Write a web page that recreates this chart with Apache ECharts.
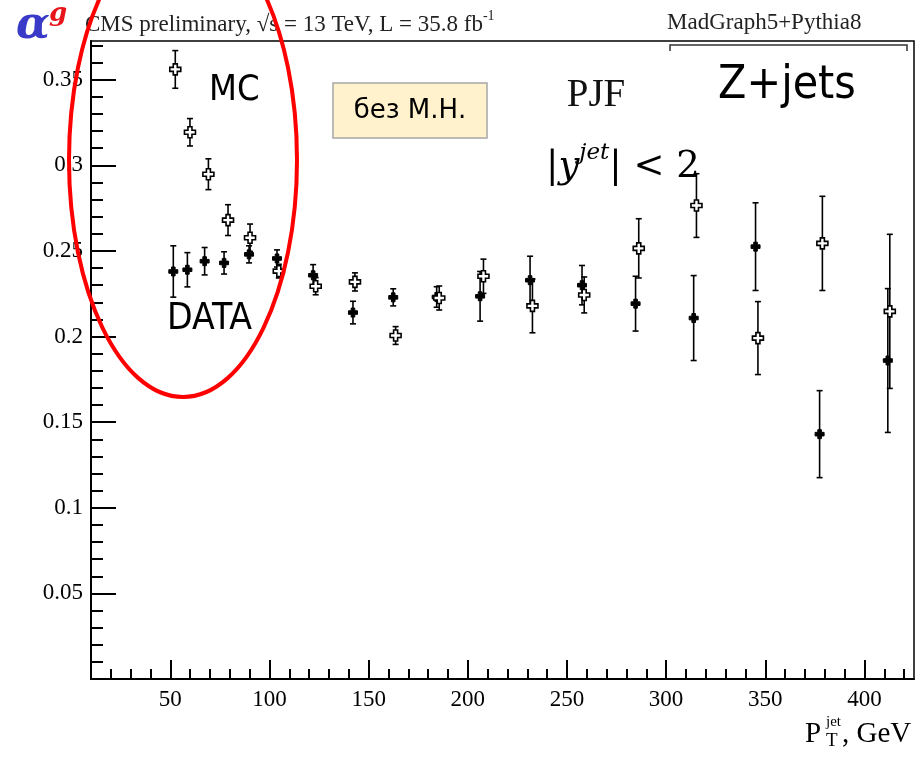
<!DOCTYPE html>
<html>
<head>
<meta charset="utf-8">
<script src="https://cdn.jsdelivr.net/npm/echarts@6/dist/echarts.min.js"></script>
<style>
  html, body { margin: 0; padding: 0; background: #fff; }
  #chart { width: 923px; height: 758px; }
</style>
</head>
<body>
<div id="chart"></div>
<script>
// DATA points: jet pT (GeV), alpha^g, stat. error
const dataPt    = [51.5, 58.6, 67.3, 77.1, 89.7, 103.8, 122.0, 142.1, 162.4, 184.3, 206.2, 231.4, 257.6, 284.6, 313.9, 345.1, 377.4, 411.8];
const dataAlpha = [0.238, 0.239, 0.244, 0.243, 0.248, 0.2456, 0.2358, 0.214, 0.2229, 0.2231, 0.2235, 0.2329, 0.230, 0.2192, 0.2108, 0.2525, 0.143, 0.186];
const dataErr   = [0.015, 0.010, 0.008, 0.0065, 0.005, 0.005, 0.0062, 0.0066, 0.005, 0.006, 0.0145, 0.014, 0.0115, 0.016, 0.0248, 0.0256, 0.0254, 0.042];

// MC (MadGraph5+Pythia8) points
const mcPt    = [52.5, 59.9, 69.2, 79.1, 90.2, 104.7, 123.3, 143.1, 163.6, 185.6, 207.9, 232.6, 258.7, 286.2, 315.3, 346.3, 378.8, 412.8];
const mcAlpha = [0.356, 0.3193, 0.2948, 0.268, 0.2577, 0.2382, 0.2294, 0.2319, 0.2006, 0.2225, 0.2352, 0.2179, 0.2243, 0.2515, 0.2765, 0.1991, 0.2544, 0.2147];
const mcErr   = [0.011, 0.008, 0.009, 0.009, 0.008, 0.004, 0.005, 0.0053, 0.0052, 0.007, 0.010, 0.0157, 0.0105, 0.0173, 0.0186, 0.0213, 0.0275, 0.045];

// axis ticks
const xMajorTicks = [50, 100, 150, 200, 250, 300, 350, 400];
const xMinorTicks = [20, 30, 40, 60, 70, 80, 90, 110, 120, 130, 140, 160, 170, 180, 190, 210, 220, 230, 240,
                     260, 270, 280, 290, 310, 320, 330, 340, 360, 370, 380, 390, 410, 420];
const yMajorTicks = [0.05, 0.1, 0.15, 0.2, 0.25, 0.3, 0.35];
const yTickLabels = ['0.05', '0.1', '0.15', '0.2', '0.25', '0.3', '0.35'];
const yMinorTicks = [0.01, 0.02, 0.03, 0.04, 0.06, 0.07, 0.08, 0.09, 0.11, 0.12, 0.13, 0.14, 0.16, 0.17, 0.18, 0.19,
                     0.21, 0.22, 0.23, 0.24, 0.26, 0.27, 0.28, 0.29, 0.31, 0.32, 0.33, 0.34, 0.36, 0.37];

const SERIF = 'Liberation Serif';
const SANS = 'DejaVu Sans Condensed, DejaVu Sans';

let chart = echarts.init(document.getElementById('chart'));

// point with vertical error bar and a "+" marker
function crossItem(filled, arm, half) {
  return function (params, api) {
    const x = api.value(0), y = api.value(1), e = api.value(2);
    const c = api.coord([x, y]);
    const hi = api.coord([x, y + e]);
    const lo = api.coord([x, y - e]);
    const px = c[0], py = c[1];
    const a = arm, w = half, cap = 3;
    const plus = [
      [px - w, py - a], [px + w, py - a], [px + w, py - w], [px + a, py - w],
      [px + a, py + w], [px + w, py + w], [px + w, py + a], [px - w, py + a],
      [px - w, py + w], [px - a, py + w], [px - a, py - w], [px - w, py - w]
    ];
    const ls = { stroke: '#000', lineWidth: 1.6 };
    return {
      type: 'group',
      children: [
        { type: 'line', shape: { x1: px, y1: hi[1], x2: px, y2: lo[1] }, style: ls },
        { type: 'line', shape: { x1: px - cap, y1: hi[1], x2: px + cap, y2: hi[1] }, style: ls },
        { type: 'line', shape: { x1: px - cap, y1: lo[1], x2: px + cap, y2: lo[1] }, style: ls },
        { type: 'polygon', shape: { points: plus },
          style: { fill: filled ? '#000' : '#fff', stroke: '#000', lineWidth: filled ? 1 : 1.6 } }
      ]
    };
  };
}

const option = {
  backgroundColor: '#fff',
  animation: false,
  grid: {
    left: 91, right: 9, top: 41, bottom: 79,
    show: true, borderColor: '#000', borderWidth: 1.5, backgroundColor: 'transparent'
  },
  xAxis: [
    {
      type: 'value', min: 10, max: 425, position: 'bottom',
      axisLine: { show: true, onZero: false, lineStyle: { color: '#000', width: 2 } },
      axisTick: { show: true, inside: true, length: 19, customValues: xMajorTicks, lineStyle: { color: '#000', width: 2 } },
      axisLabel: { customValues: xMajorTicks, color: '#000', fontFamily: SERIF, fontSize: 23, margin: 9 },
      splitLine: { show: false }
    },
    {
      type: 'value', min: 10, max: 425, position: 'bottom',
      axisLine: { show: false, onZero: false },
      axisTick: { show: true, inside: true, length: 10, customValues: xMinorTicks, lineStyle: { color: '#000', width: 2 } },
      axisLabel: { show: false },
      splitLine: { show: false }
    }
  ],
  yAxis: [
    {
      type: 'value', min: 0, max: 0.3726, position: 'left',
      axisLine: { show: true, onZero: false, lineStyle: { color: '#000', width: 2 } },
      axisTick: { show: true, inside: true, length: 25, customValues: yMajorTicks, lineStyle: { color: '#000', width: 2 } },
      axisLabel: {
        customValues: yMajorTicks, color: '#000', fontFamily: SERIF, fontSize: 23, margin: 8,
        formatter: function (v) {
          const i = yMajorTicks.findIndex(t => Math.abs(t - v) < 1e-6);
          return i >= 0 ? yTickLabels[i] : '';
        }
      },
      splitLine: { show: false }
    },
    {
      type: 'value', min: 0, max: 0.3726, position: 'left',
      axisLine: { show: false, onZero: false },
      axisTick: { show: true, inside: true, length: 12, customValues: yMinorTicks, lineStyle: { color: '#000', width: 2 } },
      axisLabel: { show: false },
      splitLine: { show: false }
    }
  ],
  series: [
    {
      name: 'DATA', type: 'custom', xAxisIndex: 0, yAxisIndex: 0,
      renderItem: crossItem(true, 4.5, 1.8),
      encode: { x: 0, y: 1 },
      data: dataPt.map((x, i) => [x, dataAlpha[i], dataErr[i]]),
      z: 3
    },
    {
      name: 'MC', type: 'custom', xAxisIndex: 0, yAxisIndex: 0,
      renderItem: crossItem(false, 5.5, 2),
      encode: { x: 0, y: 1 },
      data: mcPt.map((x, i) => [x, mcAlpha[i], mcErr[i]]),
      z: 4
    }
  ],
  graphic: [
    // alpha^g
    { type: 'text', x: 16, y: 27, style: { text: 'α', fill: '#3a3ac8', font: 'italic bold 44px DejaVu Serif', textVerticalAlign: 'middle' } },
    { type: 'text', x: 49, y: 14, style: { text: 'g', fill: '#e8141c', font: 'italic bold 26px DejaVu Serif', textVerticalAlign: 'middle' } },
    // header
    {
      type: 'text', left: 85, top: 9,
      style: {
        text: '{t|CMS preliminary, √s = 13 TeV, L = 35.8 fb}{s|-1}',
        rich: {
          t: { fontFamily: SERIF, fontSize: 23, fill: '#222', lineHeight: 27, verticalAlign: 'bottom' },
          s: { fontFamily: SERIF, fontSize: 14, fill: '#222', lineHeight: 20, verticalAlign: 'top' }
        }
      }
    },
    { type: 'text', left: 667, top: 11, style: { text: 'MadGraph5+Pythia8', fill: '#222', font: '23px ' + SERIF } },
    {
      type: 'polyline',
      shape: { points: [[670, 51], [670, 45], [907, 45], [907, 51]] },
      style: { stroke: '#333', lineWidth: 1.5, fill: null }
    },
    { type: 'text', x: 787, y: 86, style: { text: 'Z+jets', fill: '#000', font: '46px ' + SANS, textAlign: 'center', textVerticalAlign: 'middle' } },
    { type: 'text', x: 596, y: 96, style: { text: 'PJF', fill: '#111', font: '39px ' + SERIF, textAlign: 'center', textVerticalAlign: 'middle' } },
    {
      type: 'text', left: 546, top: 142,
      style: {
        text: '{m||}{i|y}{s|jet}{m|| < 2}',
        rich: {
          m: { fontFamily: 'DejaVu Serif', fontSize: 37, fill: '#000', lineHeight: 44, verticalAlign: 'bottom' },
          i: { fontFamily: 'DejaVu Serif', fontStyle: 'italic', fontSize: 37, fill: '#000', lineHeight: 44, verticalAlign: 'bottom' },
          s: { fontFamily: 'DejaVu Serif', fontStyle: 'italic', fontSize: 23, fill: '#000', lineHeight: 22, verticalAlign: 'top' }
        }
      }
    },
    // label box
    {
      type: 'rect', shape: { x: 333, y: 83, width: 154, height: 55 },
      style: { fill: '#fff2cc', stroke: '#a6a6a6', lineWidth: 1.5 }
    },
    { type: 'text', x: 410, y: 111, style: { text: 'без М.Н.', fill: '#000', font: '26px DejaVu Sans', textAlign: 'center', textVerticalAlign: 'middle' } },
    { type: 'text', x: 209, y: 91, style: { text: 'MC', fill: '#000', font: '36px ' + SANS, textVerticalAlign: 'middle' } },
    { type: 'text', x: 167, y: 319, style: { text: 'DATA', fill: '#000', font: '37px ' + SANS, textVerticalAlign: 'middle' } },
    // x axis title P_T^jet, GeV
    { type: 'text', x: 805, y: 734, style: { text: 'P', fill: '#000', font: '29px ' + SERIF, textVerticalAlign: 'middle' } },
    { type: 'text', x: 826, y: 722, style: { text: 'jet', fill: '#000', font: '15px ' + SERIF, textVerticalAlign: 'middle' } },
    { type: 'text', x: 826, y: 741, style: { text: 'T', fill: '#000', font: '19px ' + SERIF, textVerticalAlign: 'middle' } },
    { type: 'text', x: 842, y: 734, style: { text: ', GeV', fill: '#000', font: '29px ' + SERIF, textVerticalAlign: 'middle' } },
    // red ellipse
    {
      type: 'ellipse', z: 100,
      shape: { cx: 183, cy: 160, rx: 114, ry: 237 },
      style: { stroke: '#ff0000', lineWidth: 4, fill: null }
    }
  ]
};

chart.setOption(option);
</script>
</body>
</html>
